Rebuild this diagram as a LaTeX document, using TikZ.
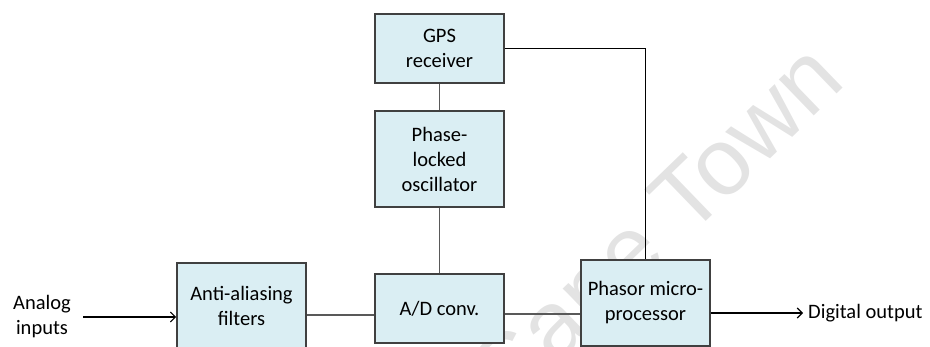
\documentclass[tikz,border=0pt]{standalone}
\usepackage{fontspec}
\setmainfont{Carlito}
\newfontfamily\wmfont{Liberation Sans}
\usetikzlibrary{arrows.meta}
\definecolor{boxfill}{HTML}{DAEEF3}
\definecolor{boxline}{HTML}{404040}
\definecolor{wirecol}{HTML}{595959}
\definecolor{wmark}{HTML}{E3E3E3}
\begin{document}
\begin{tikzpicture}[x=1pt,y=-1pt,
  blk/.style={draw=boxline, line width=1.6pt, fill=boxfill, inner sep=0pt,
              align=center, font=\fontsize{20.5}{25}\selectfont},
  lbl/.style={inner sep=0pt, align=center, font=\fontsize{20.5}{25}\selectfont},
  wire/.style={draw=wirecol, line width=1.8pt},
  sig/.style={draw=black, line width=1.1pt},
  tip/.style={-{Straight Barb[length=5pt,width=10pt]}}
]
\useasboundingbox (0,0) rectangle (930,347);

% faint background watermark
\node[rotate=44, anchor=base east, inner sep=0pt, text=wmark,
      font=\wmfont\fontsize{95}{95}\selectfont] (wm) at (848,84) {Cape Town};

% blocks
\node[blk, minimum width=129pt, minimum height=69pt] (gps) at (439.5,48.5) {GPS\\receiver};
\node[blk, minimum width=129pt, minimum height=96pt] (plo) at (439.5,159) {Phase-\\locked\\oscillator};
\node[blk, minimum width=129pt, minimum height=86pt] (aaf) at (241.5,306) {Anti-aliasing\\filters};
\node[blk, minimum width=129pt, minimum height=69pt] (adc) at (439.5,308.5) {A/D conv.};
\node[blk, minimum width=129pt, minimum height=86pt] (pmp) at (645.5,303) {Phasor micro-\\processor};

% free labels
\node[lbl] (ain) at (42,317) {Analog\\inputs};
\node[lbl, anchor=west] (dout) at (808,313) {Digital output};

% connections
\draw[wire] (gps.south) -- (plo.north);
\draw[wire] (plo.south) -- (adc.north);
\draw[sig] (gps.east) -| (pmp.north);
\draw[wire] ([yshift=-9pt]aaf.east) -- ([yshift=-6.5pt]adc.west);
\draw[wire] ([yshift=-5.5pt]adc.east) -- ([yshift=-11pt]pmp.west);
\draw[sig,tip] ([xshift=12pt]ain.east) -- ([yshift=-11pt]aaf.west);
\draw[sig,tip] ([yshift=-10pt]pmp.east) -- ([xshift=-5pt]dout.west);
\end{tikzpicture}
\end{document}
